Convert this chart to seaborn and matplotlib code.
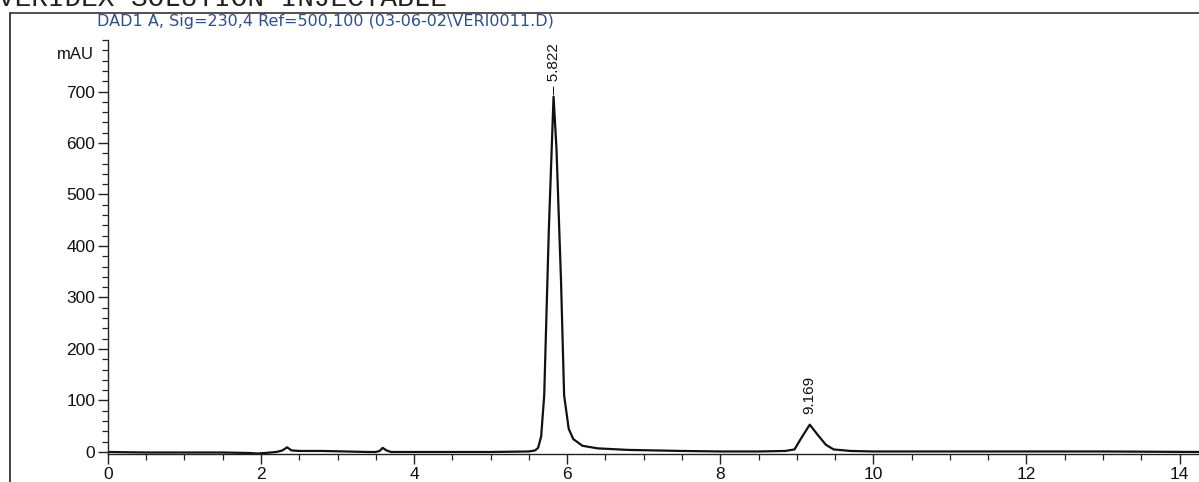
import numpy as np
import pandas as pd
import matplotlib
matplotlib.use("Agg")
import matplotlib.pyplot as plt
from matplotlib.ticker import MultipleLocator
from matplotlib.lines import Line2D
import seaborn as sns

# ---- data ----
time_min = [0.0, 0.5, 1.0, 1.5, 1.85, 1.95, 2.05, 2.2, 2.28, 2.34, 2.4, 2.5, 2.8, 3.1, 3.4, 3.5,
            3.55, 3.59, 3.64, 3.7, 4.0, 4.5, 5.0, 5.5, 5.58, 5.62, 5.66, 5.70, 5.76, 5.822,
            5.86, 5.92, 5.96, 6.02, 6.08, 6.2, 6.4, 6.8, 7.5, 8.0, 8.5, 8.85, 8.97, 9.05,
            9.169, 9.28, 9.38, 9.48, 9.7, 10.0, 11.0, 12.0, 13.0, 14.27]
signal_mau = [0, -1, -1, -1, -2, -3, -2, 0, 3, 9, 3, 2, 2, 1, 0, 0,
              2, 8, 3, 0, 0, 0, 0, 1, 3, 8, 30, 110, 430, 690,
              590, 330, 110, 45, 25, 12, 7, 4, 2, 1, 1, 2, 5, 25,
              53, 32, 14, 5, 2, 1, 1, 1, 1, 0]
peak_rt = [5.822, 9.169]
peak_height = [690, 53]
peak_labels = ["– 5.822", "9.169"]
peak_offsets = [2, 8]

x_major = [0, 2, 4, 6, 8, 10, 12, 14]
y_major = [0, 100, 200, 300, 400, 500, 600, 700]

title = "DAD1 A, Sig=230,4 Ref=500,100 (03-06-02\\VERI0011.D)"
header = "VERIDEX SOLUTION INJECTABLE"

df = pd.DataFrame({"time": time_min, "signal": signal_mau})

sns.set_style("ticks")
plt.rcParams["font.family"] = ["Liberation Sans", "DejaVu Sans"]

fig = plt.figure(figsize=(11.99, 4.82), dpi=100)
ax = fig.add_axes([0.090, 0.058, 0.911, 0.859])

sns.lineplot(data=df, x="time", y="signal", ax=ax, color="#111111",
             linewidth=1.6, estimator=None, sort=False)

ax.set_xlim(0, 14.27)
ax.set_ylim(-4, 800)
ax.set_xlabel("")
ax.set_ylabel("")
ax.set_xticks(x_major)
ax.set_yticks(y_major)
ax.xaxis.set_minor_locator(MultipleLocator(0.5))
ax.yaxis.set_minor_locator(MultipleLocator(20))
ax.tick_params(axis="both", which="major", length=7, width=1.0, labelsize=12.5,
               color="#222222", labelcolor="#111111")
ax.tick_params(axis="both", which="minor", length=4, width=0.9, color="#222222")
ax.tick_params(axis="y", pad=2)
ax.tick_params(axis="x", pad=2)
for s in ["top", "right"]:
    ax.spines[s].set_visible(False)
for s in ["left", "bottom"]:
    ax.spines[s].set_linewidth(1.0)
    ax.spines[s].set_color("#222222")
ax.grid(False)

ax.annotate("mAU", xy=(0, 772), xycoords=("axes fraction", "data"),
            xytext=(-10, 0), textcoords="offset points",
            ha="right", va="center", fontsize=12, color="#111111")

for rt, h, lab, off in zip(peak_rt, peak_height, peak_labels, peak_offsets):
    ax.annotate(lab, xy=(rt, h), xytext=(0, off), textcoords="offset points",
                rotation=90, ha="center", va="bottom", fontsize=11,
                color="#111111")

# page header and frame of the scanned report
fig.text(0.081, 1 - 26 / 482, title, fontsize=11.5, color="#2d4f8e",
         family="DejaVu Sans", ha="left", va="baseline")
fig.text(-0.002, 1 - 6 / 482, header, fontsize=20, family="Liberation Mono",
         color="#222222", ha="left", va="baseline")
fig.add_artist(Line2D([10 / 1199, 10 / 1199], [0, 1 - 13 / 482],
                      transform=fig.transFigure, color="#222222", linewidth=1.2))
fig.add_artist(Line2D([10 / 1199, 1.0], [1 - 13 / 482, 1 - 13 / 482],
                      transform=fig.transFigure, color="#333333", linewidth=1.2))

fig.savefig("out.png", dpi=100)
